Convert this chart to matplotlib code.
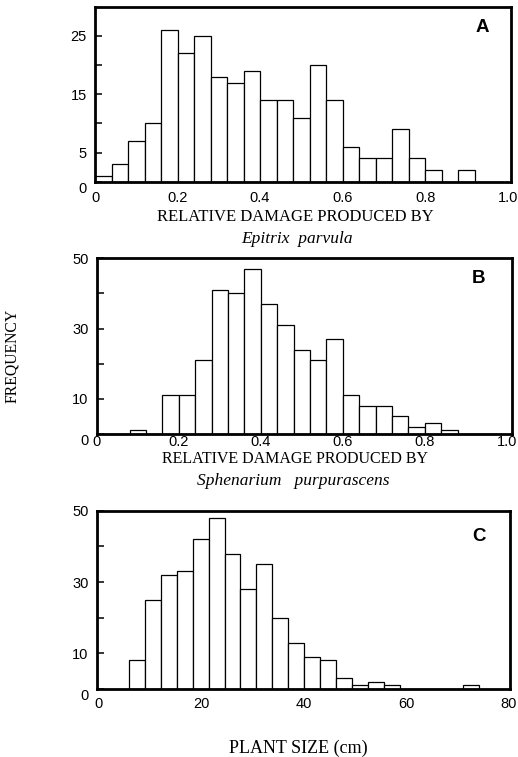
import numpy as np
import matplotlib
matplotlib.use("Agg")
import matplotlib.pyplot as plt

# counts
damage_bin_width = 0.04
epitrix_counts = [1, 3, 7, 10, 26, 22, 25, 18, 17, 19, 14, 14, 11, 20, 14,
                  6, 4, 4, 9, 4, 2, 0, 2, 0, 0]
sphenarium_counts = [0, 0, 1, 0, 11, 11, 21, 41, 40, 47, 37, 31, 24, 21, 27,
                     11, 8, 8, 5, 2, 3, 1, 0, 0, 0]

size_bin_start = 6.0
size_bin_width = 3.1
size_counts = [8, 25, 32, 33, 42, 48, 38, 28, 35, 20, 13, 9, 8, 3, 1, 2, 1,
               0, 0, 0, 0, 1]

damage_ticks = [0, 0.2, 0.4, 0.6, 0.8, 1.0]
damage_ticklabels = ["0", "0.2", "0.4", "0.6", "0.8", "1.0"]
size_ticks = [0, 20, 40, 60, 80]
size_ticklabels = ["0", "20", "40", "60", "80"]

SANS = "Liberation Sans"
SERIF = "Liberation Serif"

fig = plt.figure(figsize=(5.18, 7.57), dpi=100)


def setup_axes(rect, ylim, yticks, ylabels, xlim, xticks, xlabels, xpad,
               letter, lx, ly):
    ax = fig.add_axes(rect)
    for s in ax.spines.values():
        s.set_linewidth(2.0)
    ax.set_ylim(*ylim)
    ax.set_xlim(*xlim)
    ax.set_yticks(yticks)
    ax.set_yticklabels(ylabels, fontname=SANS, fontsize=10.5)
    ax.set_xticks(xticks)
    ax.set_xticklabels(xlabels, fontname=SANS, fontsize=10.5)
    ax.tick_params(axis="y", direction="in", length=5, width=1.1, pad=6)
    ax.tick_params(axis="x", length=0, pad=xpad)
    ax.get_yticklabels()[0].set_va("top")
    ax.text(lx, ly, letter, transform=ax.transAxes, fontname=SANS,
            fontweight="bold", fontsize=13.5, ha="center", va="center")
    return ax


def draw_bars(ax, left_edges, counts, width):
    ax.bar(left_edges, counts, width=width, align="edge", color="white",
           edgecolor="black", linewidth=0.9)


# panel A
axA = setup_axes([0.1834, 0.760, 0.803, 0.2312], (0, 30), [0, 5, 10, 15, 20, 25],
                 ["0", "5", "", "15", "", "25"], (0, 1.008), damage_ticks,
                 damage_ticklabels, 7, "A", 0.93, 0.88)
edges_A = np.arange(len(epitrix_counts)) * damage_bin_width
draw_bars(axA, edges_A, epitrix_counts, damage_bin_width)

# panel B
axB = setup_axes([0.1867, 0.4267, 0.801, 0.2321], (0, 50), [0, 10, 20, 30, 40, 50],
                 ["0", "10", "", "30", "", "50"], (0, 1.012), damage_ticks,
                 damage_ticklabels, 0.5, "B", 0.92, 0.886)
edges_B = np.arange(len(sphenarium_counts)) * damage_bin_width
draw_bars(axB, edges_B, sphenarium_counts, damage_bin_width)

# panel C
axC = setup_axes([0.1867, 0.0898, 0.798, 0.2355], (0, 50), [0, 10, 20, 30, 40, 50],
                 ["0", "10", "", "30", "", "50"], (-0.3, 80.2), size_ticks,
                 size_ticklabels, 6, "C", 0.925, 0.854)
edges_C = size_bin_start + np.arange(len(size_counts)) * size_bin_width
draw_bars(axC, edges_C, size_counts, size_bin_width)

# axis titles
fig.text(0.570, 0.7137, "RELATIVE DAMAGE PRODUCED BY", fontname=SERIF,
         fontsize=12, ha="center", va="center")
fig.text(0.573, 0.684, "Epitrix  parvula", fontname=SERIF, style="italic",
         fontsize=12.5, ha="center", va="center")
fig.text(0.570, 0.393, "RELATIVE DAMAGE PRODUCED BY", fontname=SERIF,
         fontsize=11.5, ha="center", va="center")
fig.text(0.567, 0.364, "Sphenarium   purpurascens", fontname=SERIF, style="italic",
         fontsize=12.5, ha="center", va="center")
fig.text(0.576, 0.0115, "PLANT SIZE (cm)", fontname=SERIF, fontsize=13,
         ha="center", va="center")
fig.text(0.024, 0.53, "FREQUENCY", fontname=SERIF, fontsize=11.3,
         rotation=90, ha="center", va="center")

fig.savefig("out.png", dpi=100)
